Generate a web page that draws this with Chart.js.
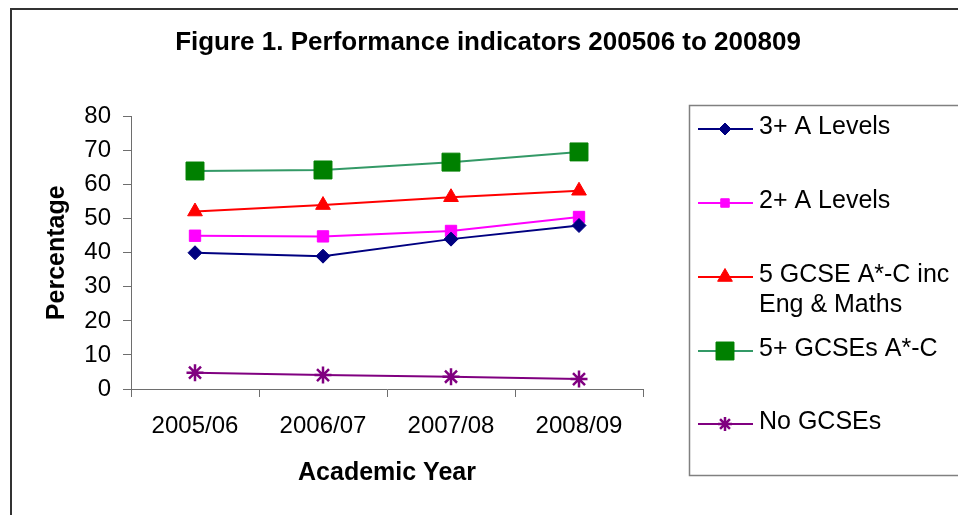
<!DOCTYPE html>
<html>
<head>
<meta charset="utf-8">
<title>Figure 1. Performance indicators 200506 to 200809</title>
<script src="https://cdn.jsdelivr.net/npm/chart.js@4.4.1/dist/chart.umd.min.js"></script>
<style>
  html, body { margin: 0; padding: 0; background: #fff; overflow: hidden; }
  #wrap { position: relative; width: 958px; height: 515px; }
</style>
</head>
<body>
<div id="wrap"><canvas id="perfChart" width="958" height="515"></canvas></div>
<script>
// values
const years = ['2005/06', '2006/07', '2007/08', '2008/09'];
const threeALevels = [40, 39, 44, 48];
const twoALevels = [45, 44.8, 46.4, 50.5];
const fiveGcseEngMaths = [52.1, 54, 56.3, 58.2];
const fiveGcses = [64, 64.3, 66.6, 69.6];
const noGcses = [4.8, 4.1, 3.6, 2.9];
const yTicks = [0, 10, 20, 30, 40, 50, 60, 70, 80];

const chartTitle = 'Figure 1. Performance indicators 200506 to 200809';
const FONT = "'Liberation Sans', Arial, sans-serif";
const AXIS = '#6e6e6e';

Chart.defaults.font.family = FONT;
Chart.defaults.color = '#000';

// title, frame and the boxed legend on the right
const figurePlugin = {
  id: 'figure',
  afterDraw(chart) {
    const ctx = chart.ctx;
    ctx.save();
    ctx.strokeStyle = '#333';
    ctx.lineWidth = 2;
    ctx.strokeRect(11, 9, 1000, 1000);

    ctx.fillStyle = '#000';
    ctx.font = 'bold 26px ' + FONT;
    ctx.textAlign = 'center';
    ctx.textBaseline = 'alphabetic';
    ctx.fillText(chartTitle, 488, 50);

    ctx.strokeStyle = '#808080';
    ctx.lineWidth = 1.5;
    ctx.strokeRect(689.5, 105.5, 400, 370);

    const rowY = [129, 203, 277, 351, 424];
    ctx.font = '25px ' + FONT;
    ctx.textAlign = 'left';
    chart.data.datasets.forEach((ds, i) => {
      const y = rowY[i];
      ctx.strokeStyle = ds.borderColor;
      ctx.lineWidth = 2;
      ctx.beginPath();
      ctx.moveTo(698, y);
      ctx.lineTo(753, y);
      ctx.stroke();

      ctx.fillStyle = ds.pointBackgroundColor;
      ctx.strokeStyle = ds.pointBorderColor;
      ctx.lineWidth = ds.pointBorderWidth;
      Chart.helpers.drawPoint(ctx, {
        pointStyle: ds.pointStyle,
        radius: ds.legendRadius,
        rotation: 0,
        borderWidth: ds.pointBorderWidth
      }, 725, y);

      ctx.fillStyle = '#000';
      ds.label.split('\n').forEach((line, k) => {
        ctx.fillText(line, 759, y + 4.5 + k * 30);
      });
    });
    ctx.restore();
  }
};

const ctx = document.getElementById('perfChart').getContext('2d');

new Chart(ctx, {
  type: 'line',
  data: {
    labels: years,
    datasets: [
      {
        label: '3+ A Levels',
        data: threeALevels,
        borderColor: '#000080',
        pointBackgroundColor: '#000080',
        pointBorderColor: '#000080',
        pointBorderWidth: 1,
        pointStyle: 'rectRot',
        pointRadius: 7,
        legendRadius: 6
      },
      {
        label: '2+ A Levels',
        data: twoALevels,
        borderColor: '#ff00ff',
        pointBackgroundColor: '#ff00ff',
        pointBorderColor: '#ff00ff',
        pointBorderWidth: 1,
        pointStyle: 'rect',
        pointRadius: 8,
        legendRadius: 6
      },
      {
        label: '5 GCSE A*-C inc\nEng & Maths',
        data: fiveGcseEngMaths,
        borderColor: '#ff0000',
        pointBackgroundColor: '#ff0000',
        pointBorderColor: '#ff0000',
        pointBorderWidth: 1,
        pointStyle: 'triangle',
        pointRadius: 8.5,
        legendRadius: 8.5
      },
      {
        label: '5+ GCSEs A*-C',
        data: fiveGcses,
        borderColor: '#339966',
        pointBackgroundColor: '#008000',
        pointBorderColor: '#008000',
        pointBorderWidth: 1,
        pointStyle: 'rect',
        pointRadius: 12.7,
        legendRadius: 12.7
      },
      {
        label: 'No GCSEs',
        data: noGcses,
        borderColor: '#800080',
        pointBackgroundColor: '#800080',
        pointBorderColor: '#800080',
        pointBorderWidth: 2.5,
        pointStyle: 'star',
        pointRadius: 8.5,
        legendRadius: 7
      }
    ]
  },
  options: {
    responsive: false,
    animation: false,
    layout: { padding: { top: 116.5, right: 315, bottom: 0, left: 0 } },
    elements: { line: { borderWidth: 2, tension: 0 } },
    plugins: {
      legend: { display: false },
      tooltip: { enabled: false },
      title: { display: false }
    },
    scales: {
      x: {
        offset: true,
        grid: { offset: true, drawOnChartArea: false, drawTicks: true, tickLength: 8, color: AXIS },
        border: { color: AXIS, width: 1 },
        ticks: { color: '#000', font: { size: 24 }, padding: 15, maxRotation: 0, autoSkip: false },
        title: {
          display: true,
          text: 'Academic Year',
          color: '#000',
          font: { size: 25, weight: 'bold' },
          padding: { top: 0, bottom: 27 }
        },
        afterFit: s => { s.height = 126; }
      },
      y: {
        min: 0,
        max: 80,
        afterBuildTicks: s => { s.ticks = yTicks.map(v => ({ value: v })); },
        grid: { drawOnChartArea: false, drawTicks: true, tickLength: 8, color: AXIS },
        border: { color: AXIS, width: 1 },
        ticks: { color: '#000', font: { size: 24 }, padding: 12 },
        title: {
          display: true,
          text: 'Percentage',
          color: '#000',
          font: { size: 25, weight: 'bold' },
          padding: { top: 42, bottom: 0 }
        },
        afterFit: s => { s.width = 131; }
      }
    }
  },
  plugins: [figurePlugin]
});
</script>
</body>
</html>
